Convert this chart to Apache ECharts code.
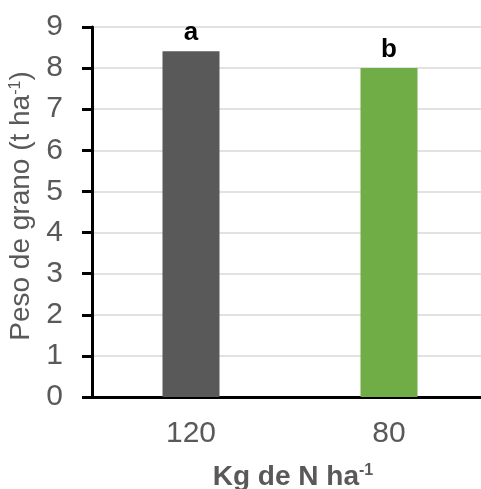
<!DOCTYPE html>
<html>
<head>
<meta charset="utf-8">
<script src="https://cdn.jsdelivr.net/npm/echarts@6/dist/echarts.min.js"></script>
<style>html,body{margin:0;padding:0;background:#fff;}#c{width:481px;height:489px;}</style>
</head>
<body>
<div id="c"></div>
<script>
const categories = ['120', '80'];
const values = [8.41, 8.0];
const letters = ['a', 'b'];
const barColors = ['#595959', '#70ad47'];
const yTicks = [0, 1, 2, 3, 4, 5, 6, 7, 8, 9];

const chart = echarts.init(document.getElementById('c'), null, {renderer: 'canvas'});
const font = 'Liberation Sans, Arial, sans-serif';
chart.setOption({
  animation: false,
  grid: {left: 92, top: 27, height: 370, width: 396, containLabel: false, outerBoundsMode: 'none'},
  xAxis: {
    type: 'category',
    data: categories,
    name: 'Kg de N ha{sup|-1}',
    nameLocation: 'middle',
    nameGap: 66,
    nameTextStyle: {fontFamily: font, fontSize: 28, fontWeight: 'bold', color: '#595959', padding: [0, 0, 0, 6],
      rich: {sup: {fontFamily: font, fontSize: 16, fontWeight: 'bold', color: '#595959', verticalAlign: 'top'}}},
    axisLine: {lineStyle: {color: '#000', width: 3}},
    axisTick: {show: false},
    axisLabel: {fontFamily: font, fontSize: 30, color: '#595959', margin: 22}
  },
  yAxis: {
    type: 'value',
    min: yTicks[0],
    max: yTicks[yTicks.length - 1],
    interval: 1,
    name: 'Peso de grano (t ha{sup|-1})',
    nameLocation: 'middle',
    nameGap: 56,
    nameTextStyle: {fontFamily: font, fontSize: 28, color: '#595959', padding: [0, 0, 0, 12],
      rich: {sup: {fontFamily: font, fontSize: 16, color: '#595959', verticalAlign: 'top'}}},
    axisLine: {show: true, lineStyle: {color: '#000', width: 3}},
    axisTick: {show: true, length: 10, lineStyle: {color: '#000', width: 3}},
    axisLabel: {fontFamily: font, fontSize: 30, color: '#595959', margin: 29},
    splitLine: {lineStyle: {color: '#d9d9d9', width: 1.5}}
  },
  series: [{
    type: 'bar',
    barWidth: 57,
    data: values.map((v, i) => ({value: v, itemStyle: {color: barColors[i]}})),
    label: {
      show: true,
      position: 'top',
      distance: 5,
      formatter: p => letters[p.dataIndex],
      fontFamily: font,
      fontSize: 26,
      fontWeight: 'bold',
      color: '#000'
    }
  }]
});
</script>
</body>
</html>
